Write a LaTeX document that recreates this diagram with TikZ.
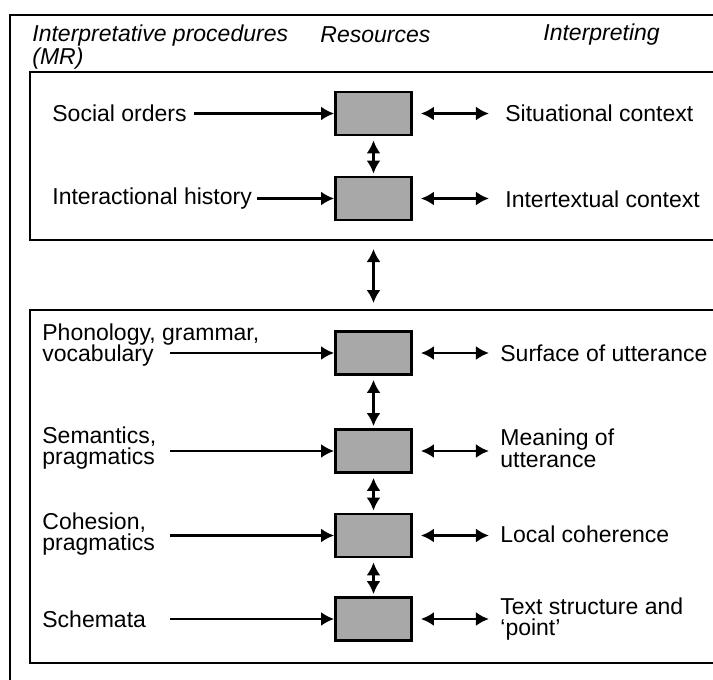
\documentclass[tikz,border=0pt]{standalone}
\usepackage{fontspec}
\setmainfont{Liberation Sans}
\usetikzlibrary{arrows.meta}

\begin{document}
\begin{tikzpicture}[x=0.5pt, y=-0.5pt,
    every node/.style={font=\fontsize{11.5}{10.8}\selectfont},
    lbl/.style={inner sep=0pt, anchor=west, align=left},
    hdr/.style={lbl, font=\fontsize{11.5}{11.3}\selectfont\itshape},
    res/.style={draw, line width=1.4pt, fill=black!34, minimum width=38pt, minimum height=21.5pt, inner sep=0pt},
    frame/.style={line width=1pt},
    oneway/.style={line width=1.2pt, -{Latex[length=6.5pt,width=7pt]}},
    twoway/.style={line width=1.2pt, {Latex[length=6.5pt,width=7pt]}-{Latex[length=6.5pt,width=7pt]}}]
        \useasboundingbox (0,0) rectangle (713,680);

        % Frames
        \draw[frame] (10,680) -- (10,15) -- (713,15);
        \draw[frame] (713,72) -- (30,72) -- (30,240) -- (713,240);
        \draw[frame] (713,310) -- (30,310) -- (30,663) -- (713,663);

        % Column heads
        \node[hdr] (ip) at (32,47) {Interpretative procedures\\(MR)};
        \node[hdr] (rs) at (320,35) {Resources};
        \node[hdr] (it) at (543,35) {Interpreting};

        % Resources boxes
        \node[res] (r1) at (373.5,113.5) {};
        \node[res] (r2) at (373.5,198.5) {};
        \node[res] (r3) at (373.5,353) {};
        \node[res] (r4) at (373.5,451) {};
        \node[res] (r5) at (373.5,535.5) {};
        \node[res] (r6) at (373.5,619) {};

        % Procedures
        \node[lbl] (so) at (52,113) {Social orders};
        \node[lbl] (ih) at (52,199) {Interactional history};
        \node[lbl] (pg) at (42,345) {Phonology, grammar,\\vocabulary};
        \node[lbl] (sp) at (42,448) {Semantics,\\pragmatics};
        \node[lbl] (cp) at (42,534) {Cohesion,\\pragmatics};
        \node[lbl] (sm) at (42,619) {Schemata};

        % Interpreting
        \node[lbl] (sc) at (505,113) {Situational context};
        \node[lbl] (ic) at (505,199) {Intertextual context};
        \node[lbl] (su) at (500,353) {Surface of utterance};
        \node[lbl] (mu) at (500,448) {Meaning of\\utterance};
        \node[lbl] (lc) at (500,534) {Local coherence};
        \node[lbl] (ts) at (500,619) {Text structure and\\‘point’};

        % Arrow tails and frame edges
        \foreach \i/\y in {3/353,4/451,5/535.5,6/619}
            \coordinate (a\i) at (170,\y);
        \coordinate (ub) at (373.5,240);
        \coordinate (lt) at (373.5,310);

        % Edges
        \draw[oneway, shorten <=3.5pt] (so.east |- r1) -- (r1);
        \draw[oneway, shorten <=2.5pt] (ih.east |- r2) -- (r2);
        \foreach \i in {3,...,6}
            \draw[oneway] (a\i) -- (r\i);
        \foreach \i in {1,...,6}
            \draw[twoway] ([xshift=4pt]r\i.east) -- ([xshift=38pt]r\i.east);
        \foreach \a/\b in {1/2,3/4,4/5,5/6}
            \draw[twoway, shorten <=2pt, shorten >=1pt] (r\a) -- (r\b);
        \draw[twoway, shorten <=4.5pt, shorten >=3.5pt] (ub) -- (lt);
    \end{tikzpicture}
\end{document}
